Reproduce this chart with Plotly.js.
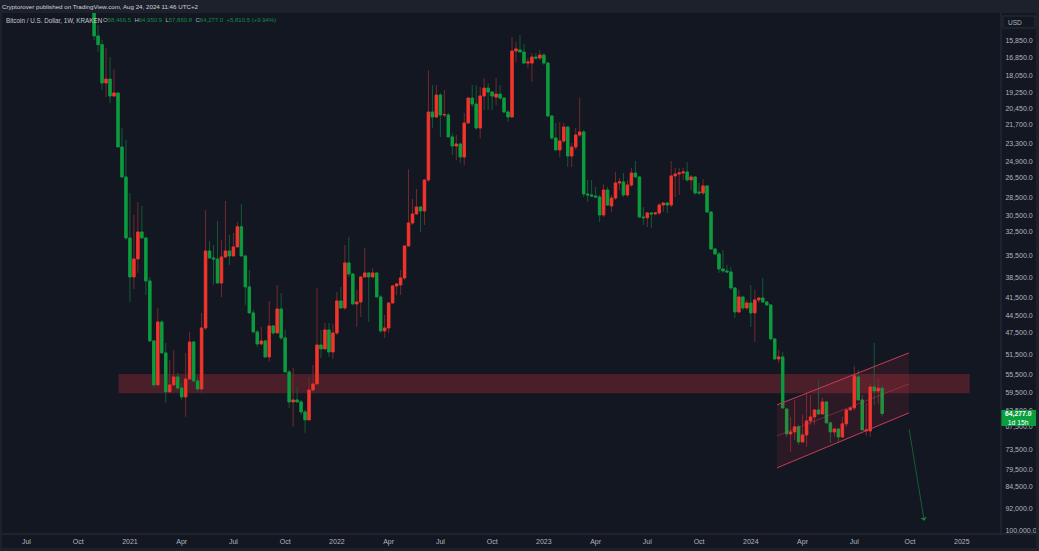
<!DOCTYPE html>
<html>
<head>
<meta charset="utf-8">
<script src="https://cdn.plot.ly/plotly-3.0.1.min.js"></script>
<style>html,body{margin:0;padding:0;background:#131722;overflow:hidden}#c{width:1039px;height:551px}</style>
</head>
<body>
<div id="c"></div>
<script>
const firstWeek = '2020-11-02';
const opens = [13770,15550,16070,18560,18290,19490,19270,23600,26420,
33230,38480,35960,32490,33230,39060,48940,57740,45570,51200,59280,57740,56030,58400,60400,56460,49130,56880,58620,46610,34895,35830,35960,39360,35690,34895,35560,34370,31860,35560,39950,44050,47310,49500,48940,51970,46260,47490,43400,48390,54990,61550,61090,61550,63910,65860,58840,57530,49690,50430,46960,51010,
47490,42110,43230,36500,38050,42590,42270,38480,37900,38480,37900,41480,47135,46610,42430,39800,39650,38620,34250,31410,30360,29580,30024,26720,20700,21090,19420,20930,20930,22730,23520,23340,24510,21570,19640,20090,21980,19490,18920,19200,19570,19350,19640,20700,21090,16460,16390,16520,17220,17220,16830,16900,16710,
17220,21010,22820,23870,23079,21900,24420,23610,22570,22310,28170,28270,28380,28490,30480,27750,29470,28600,27030,26920,28270,27230,26030,26420,30710,30800,30250,30360,30250,29360,29140,29360,26320,26130,26030,25930,26720,26420,27960,28060,27330,30140,34630,35290,37340,37619,37760,40100,43890,41480,43230,
42430,44050,41950,41640,42270,42740,48570,52370,51970,63200,69420,68900,67600,71540,69680,66106,65120,63430,64390,61550,66600,68900,68140,70210,66850,63430,62950,56030,61090,68637,68637,58180,59057,58466.5];
const highs = [15800,16520,19060,19570,20010,19570,23600,26420,33480,
42270,40260,37900,33230,41170,49130,58400,57960,51200,61780,59500,57800,58840,61090,65120,56660,57090,59280,59500,46960,35830,39650,39360,41500,35830,36780,35600,34400,35560,42740,44050,47490,50050,49690,52170,52960,47850,47600,48760,55190,62950,67600,61780,64630,69150,65900,59500,57740,52170,50620,51970,52370,
47850,43400,43560,38480,42740,46430,44720,38500,45570,38620,41500,47490,48390,47490,42500,41170,41170,38910,34370,31650,30480,32490,31650,26930,21980,21170,22730,21090,22730,24330,24790,25070,25260,21600,20320,22140,22820,20540,20540,20540,20160,19790,20780,21490,21100,17150,16520,17220,17550,18490,17020,17020,17350,
21090,22990,23870,24510,23250,25450,25450,23870,22730,28490,29030,28490,28600,31290,30710,29470,30140,28810,27750,28490,28490,27430,26520,30820,31650,31890,32000,30480,30480,30140,30250,29580,28490,28270,26720,26920,27750,28270,28270,28270,30250,34760,35420,37900,37900,37900,40400,44900,44050,43560,43560,
46430,49130,42430,42430,42910,48760,52560,53160,63200,70210,74270,71000,72280,71800,72820,67100,67100,64630,64630,66600,71800,70210,71800,70470,67600,63500,63500,61090,68400,69940,70210,62250,62020,64950.9];
const lows = [13200,14925,15790,16270,16830,17620,19200,21980,22990,
28060,30480,29030,29470,33100,38480,48760,43230,45230,49310,52560,50620,55190,57310,51200,47310,49000,56030,44050,29910,33610,34120,31170,33480,28920,32860,32610,31290,29270,35500,37480,43560,46960,46430,48760,42110,46090,39650,40860,46960,54570,54150,58180,61090,63430,56030,53560,40090,46960,45740,45740,45910,
40710,39950,34120,33100,37900,40400,38400,34500,37800,37200,37800,41170,44390,42400,39650,39360,37480,34120,25670,28700,27640,29500,26700,17690,18700,18700,19270,19060,20780,22400,22570,23250,20780,19600,18700,18700,18840,18220,18560,19150,18220,18700,19600,20540,15620,15910,15500,16030,16900,16580,16580,16390,16580,
17150,20950,21570,21490,21570,21850,23250,21980,19640,22140,26720,26720,27430,28270,27160,27430,28270,25930,26520,26030,26720,25540,24880,26320,29580,30140,30140,30140,29140,29030,29100,24880,25540,25540,25540,24980,26220,26320,27030,26620,27230,30100,34600,35030,34760,36780,37070,40000,40400,41400,41950,
39650,40400,41600,38620,42200,42700,48500,50620,51010,63100,65120,61090,67100,64630,59500,59950,63200,56660,60630,61500,66350,67870,67870,65120,63400,62720,53760,54570,59950,61780,57530,49310,56250,57860.8];
const closes = [15550,16070,18560,18290,19490,19270,23600,26420,33230,
38480,35960,32490,33230,39060,48940,57740,45570,51200,59280,57740,56030,58400,60400,56460,49130,56880,58620,46610,34895,35830,35960,39360,35690,34895,35560,34370,31860,35560,39950,44050,47310,49500,48940,51970,46260,47490,43400,48390,54990,61550,61090,61550,63910,65860,58840,57530,49690,50430,46960,51010,47490,
42110,43230,36500,38050,42590,42270,38480,37900,38480,37900,41480,47135,46610,42430,39800,39500,38620,34250,31410,30360,29580,30024,26720,20700,21090,19420,20930,20900,22730,23520,23340,24510,21570,19640,20090,21980,19490,18920,19200,19490,19350,19640,20700,21090,16460,16330,16520,17220,17150,16830,16900,16710,17220,
21010,22820,23870,23079,21900,24420,23610,22570,22310,28170,28270,28380,28490,30480,27750,29360,28600,27030,26920,28270,27230,26030,26420,30710,30800,30250,30360,30250,29360,29140,29360,26320,26130,26030,25930,26720,26420,28060,28060,27330,30140,34630,35290,37340,37619,37760,40100,43890,41480,43230,42430,
44050,41950,41640,42270,42740,48570,52370,51970,62950,69420,68900,67600,71540,69680,66106,65120,63430,64390,61550,66600,68900,68140,70210,66850,63430,62950,55800,61090,68380,68380,58180,59057,58466.5,64277];

const xTickDates = ['2020-07-06','2020-10-05','2021-01-04','2021-04-05','2021-07-05','2021-10-04','2022-01-03','2022-04-04','2022-07-04','2022-10-03','2023-01-02','2023-04-03','2023-07-03','2023-10-02','2024-01-01','2024-04-01','2024-07-01','2024-10-07','2025-01-06'];
const xTickLabels = ['Jul','Oct','2021','Apr','Jul','Oct','2022','Apr','Jul','Oct','2023','Apr','Jul','Oct','2024','Apr','Jul','Oct','2025'];
const yTicks = [15850,16850,18050,19250,20450,21700,23300,24900,26500,28500,30500,32500,35500,38500,41500,44500,47500,51500,55500,59500,63500,67500,73500,79500,84500,92000,100000];

const zoneDates = ['2020-12-15','2025-01-20'];
const zonePrices = [55400,59600];
const channelDates = ['2024-02-16','2024-10-05'];
const channelUpper = [62250,51200];
const channelMiddle = [69940,57530];
const channelLower = [78880,64150];
const arrowDates = ['2024-10-05','2024-11-01'];
const arrowPrices = [67870,96260];

const headerText = 'Cryptorover published on TradingView.com, Aug 24, 2024 11:46 UTC+2';
const symbolText = 'Bitcoin / U.S. Dollar, 1W, KRAKEN';
const ohlcLabels = ['O','H','L','C'];
const ohlcValues = ['58,466.5','64,950.9','57,860.8','64,277.0'];
const changeText = '+5,810.5 (+9.94%)';

const GREEN='#0c9c3e', RED='#f2352b', GREEN_W='#125a36', RED_W='#74282c', BG='#131722', CHROME='#1d212c', AXIS='#2a2e39', TXT='#b2b5be';

const dates = opens.map((_,i)=>{const d=new Date(firstWeek+'T00:00:00Z');d.setUTCDate(d.getUTCDate()+7*i);return d.toISOString().slice(0,10);});
const bodyHigh = opens.map((o,i)=>Math.max(o,closes[i]));
const bodyLow = opens.map((o,i)=>Math.min(o,closes[i]));

const none={hoverinfo:'skip',showlegend:false};
const W=999,H=521;
const px=x=>(x-2)/W, py=y=>(534-y)/H;

const traces=[
 Object.assign({type:'scatter',mode:'lines',x:[channelDates[0],channelDates[1],channelDates[1],channelDates[0],channelDates[0]],
   y:[channelUpper[0],channelUpper[1],channelLower[1],channelLower[0],channelUpper[0]],fill:'toself',fillcolor:'rgba(242,54,69,0.11)',line:{width:0}},none),
 Object.assign({type:'candlestick',x:dates,open:opens,high:highs,low:lows,close:closes,
   increasing:{line:{color:GREEN_W,width:1},fillcolor:GREEN},decreasing:{line:{color:RED_W,width:1},fillcolor:RED}},none),
 Object.assign({type:'candlestick',x:dates,open:opens,high:bodyHigh,low:bodyLow,close:closes,
   increasing:{line:{color:GREEN,width:0.8},fillcolor:GREEN},decreasing:{line:{color:RED,width:0.8},fillcolor:RED}},none),
 Object.assign({type:'scatter',mode:'lines',x:channelDates,y:channelUpper,line:{color:'#c93a58',width:1}},none),
 Object.assign({type:'scatter',mode:'lines',x:channelDates,y:channelLower,line:{color:'#c93a58',width:1}},none),
 Object.assign({type:'scatter',mode:'lines',x:channelDates,y:channelMiddle,line:{color:'rgba(216,64,95,0.4)',width:1}},none)
];

const chrome=(x0,y0,x1,y1,c)=>({type:'rect',xref:'paper',yref:'paper',x0:px(x0),x1:px(x1),y0:py(y1),y1:py(y0),fillcolor:c,line:{width:0},layer:'above'});
const shapes=[
 {type:'rect',xref:'x',yref:'y',x0:zoneDates[0],x1:zoneDates[1],y0:zonePrices[0],y1:zonePrices[1],fillcolor:'rgba(242,54,69,0.25)',line:{width:0},layer:'below'},
 chrome(0,0,1039,13,CHROME),
 chrome(0,13,2,551,CHROME),
 chrome(1036,13,1039,551,CHROME),
 chrome(0,548,1039,551,CHROME),
 chrome(1001,410,1036,426,'#0b9e3f'),
 {type:'rect',xref:'paper',yref:'paper',x0:px(1003),x1:px(1035),y0:py(28),y1:py(16),fillcolor:BG,line:{color:AXIS,width:1},layer:'above'},
 {type:'line',xref:'paper',yref:'paper',x0:px(1001),x1:px(1001),y0:py(534),y1:py(13),line:{color:AXIS,width:1},layer:'above'},
 {type:'line',xref:'paper',yref:'paper',x0:px(2),x1:px(1036),y0:py(534),y1:py(534),line:{color:AXIS,width:1},layer:'above'}
];

const FONT='"Liberation Sans", Arial, sans-serif';
const note=(x,y,text,o)=>Object.assign({xref:'paper',yref:'paper',x:px(x),y:py(y),text,showarrow:false,xanchor:'left',yanchor:'middle',borderpad:0,
  font:{family:FONT,size:6.2,color:TXT}},o||{});
const vals=ohlcLabels.map((l,i)=>'<span style="color:'+TXT+'">'+l+'</span><span style="color:#118a44">'+ohlcValues[i]+'</span>').join('  ');
const annotations=[
 note(1,6.5,headerText,{font:{family:FONT,size:6.2,color:'#d0d3da'}}),
 note(5,20.5,symbolText,{font:{family:FONT,size:6.3,color:'#c4c7cf'}}),
 note(102,20.5,vals+'  <span style="color:#118a44">'+changeText+'</span>',{font:{family:FONT,size:6,color:TXT}}),
 note(1007,22,'USD',{font:{family:FONT,size:6.5,color:TXT}}),
 note(1018.5,418,'<b>64,277.0</b><br>1d 15h',{xanchor:'center',align:'center',font:{family:FONT,size:6.8,color:'#ffffff'}}),
 {xref:'x',yref:'y',axref:'x',ayref:'y',x:arrowDates[1],y:Math.log10(arrowPrices[1]),ax:arrowDates[0],ay:Math.log10(arrowPrices[0]),text:'',showarrow:true,arrowhead:1,arrowsize:1.5,arrowwidth:0.7,arrowcolor:'#12803e'}
];

const layout={
 width:1039,height:551,margin:{l:2,r:38,t:13,b:17,pad:0},boxgap:0.12,
 paper_bgcolor:BG,plot_bgcolor:BG,showlegend:false,dragmode:false,hovermode:false,
 font:{family:FONT,size:7,color:TXT},
 xaxis:{type:'date',range:['2020-05-24','2025-03-16'],rangeslider:{visible:false},showgrid:false,zeroline:false,showline:false,
   tickmode:'array',tickvals:xTickDates,ticktext:xTickLabels,ticks:'outside',ticklen:1,tickcolor:'rgba(0,0,0,0)',tickangle:0,tickfont:{family:FONT,size:7,color:TXT}},
 yaxis:{type:'log',side:'right',range:[5.0049,4.15429],autorange:false,showgrid:false,zeroline:false,showline:false,
   tickmode:'array',tickvals:yTicks,ticktext:yTicks.map(v=>v.toLocaleString('en-US',{minimumFractionDigits:1,maximumFractionDigits:1})),
   ticks:'outside',ticklen:2,tickcolor:'rgba(0,0,0,0)',tickfont:{family:FONT,size:7,color:TXT}},
 shapes,annotations
};
Plotly.newPlot('c',traces,layout,{displayModeBar:false,staticPlot:true});
</script>
</body>
</html>
